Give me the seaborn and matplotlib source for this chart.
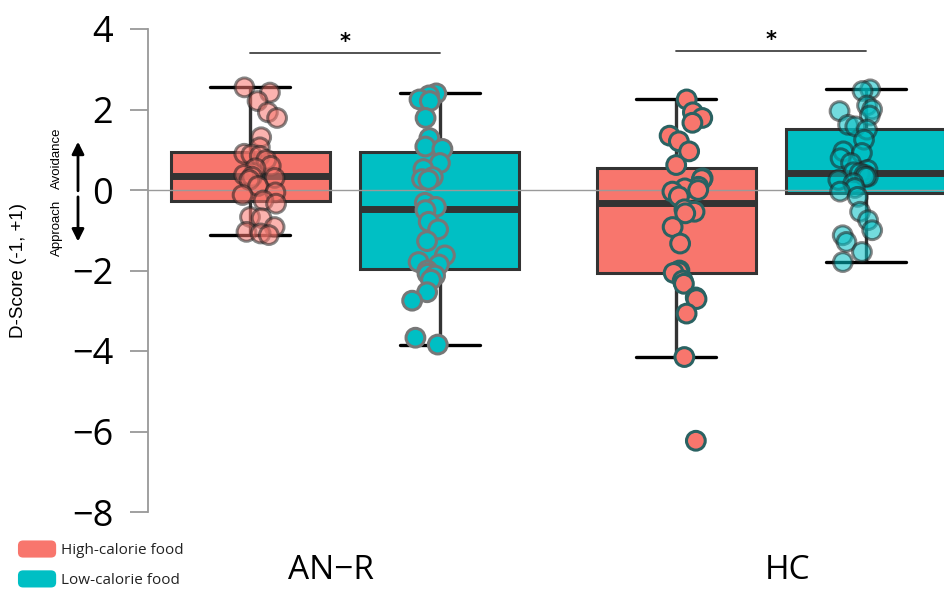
import numpy as np
import pandas as pd
import matplotlib
matplotlib.use("Agg")
import matplotlib.pyplot as plt
import matplotlib.transforms as mtransforms
from matplotlib.patches import Patch, FancyBboxPatch
from matplotlib.legend_handler import HandlerPatch
import seaborn as sns

# ---------------- data ----------------
groups = ["AN\u2212R", "HC"]
foods = ["High-calorie food", "Low-calorie food"]
colors = ["#F8766D", "#00BFC4"]

anr_high = [2.55, 2.42, 2.21, 1.93, 1.79, 1.31, 1.06, 0.90, 0.88, 0.85, 0.75, 0.60,
            0.54, 0.375, 0.33, 0.30, 0.25, 0.10, -0.06, -0.125, -0.26, -0.34, -0.67,
            -0.70, -0.92, -1.04, -1.08, -1.12]
anr_low = [2.40, 2.35, 2.25, 2.21, 1.79, 1.29, 1.08, 1.02, 0.67, 0.52, 0.32, 0.27,
           0.25, -0.32, -0.42, -0.50, -0.79, -0.98, -1.27, -1.625, -1.79, -1.85, -2.00,
           -2.08, -2.125, -2.23, -2.54, -2.75, -3.67, -3.84]
hc_high = [2.25, 1.93, 1.79, 1.67, 1.35, 1.21, 0.96, 0.62, 0.29, 0.27, 0.08, 0.04,
           0.0, -0.04, -0.16, -0.48, -0.54, -0.58, -0.92, -1.33, -2.00, -2.03, -2.06,
           -2.25, -2.33, -2.67, -2.71, -3.07, -4.15, -6.23]
hc_low = [2.50, 2.46, 2.10, 2.00, 1.96, 1.85, 1.62, 1.58, 1.50, 1.25, 0.96, 0.92,
          0.79, 0.67, 0.50, 0.44, 0.42, 0.38, 0.33, 0.33, 0.25, 0.17, 0.05, -0.04,
          -0.17, -0.54, -0.75, -1.00, -1.125, -1.29, -1.54, -1.79]

yticks = [4, 2, 0, -2, -4, -6, -8]
sig_y = [3.4, 3.45]
sig_labels = ["*", "*"]

series = [(groups[0], foods[0], anr_high), (groups[0], foods[1], anr_low),
          (groups[1], foods[0], hc_high), (groups[1], foods[1], hc_low)]
rows = []
for g, f, vals in series:
    for v in vals:
        rows.append({"group": g, "food": f, "score": v})
df = pd.DataFrame(rows)

# ---------------- style ----------------
sns.set_theme(style="white")
plt.rcParams["font.family"] = ["Open Sans", "DejaVu Sans"]
plt.rcParams["text.color"] = "black"
plt.rcParams["axes.labelcolor"] = "black"
arial = ["Liberation Sans", "DejaVu Sans"]

fig = plt.figure(figsize=(9.45, 5.9), dpi=100)
ax = fig.add_axes([148 / 945, 78 / 590, 797 / 945, 483 / 590])

width = 0.89
sns.boxplot(data=df, x="group", y="score", hue="food", order=groups, hue_order=foods,
            palette=colors, saturation=1, width=width, gap=0.16, linewidth=2.2,
            linecolor="#333333", showfliers=False,
            medianprops=dict(color="#333333", linewidth=5),
            whiskerprops=dict(color="#333333", linewidth=2.4),
            capprops=dict(color="black", linewidth=2.4),
            legend=False, ax=ax)

ax.axhline(0, color="#9a9a9a", lw=1.0, zorder=2.5)

styles = {
    (0, 0): dict(alpha=0.55, edgecolor="#222222"),
    (0, 1): dict(alpha=1.0, edgecolor="#777777"),
    (1, 0): dict(alpha=1.0, edgecolor="#2a6262"),
    (1, 1): dict(alpha=0.55, edgecolor="#222222"),
}
np.random.seed(7)
for (gi, fi), st in styles.items():
    sub = df[(df["group"] == groups[gi]) & (df["food"] == foods[fi])]
    sns.stripplot(data=sub, x="group", y="score", hue="food", order=groups,
                  hue_order=foods, palette=colors, dodge=True, jitter=0.085, size=13.5,
                  linewidth=2.2, legend=False, ax=ax, zorder=3, **st)

ax.set_xlim(-0.4624, 1.4085)
ax.set_ylim(-8, 4)
ax.set_yticks(yticks)
ax.set_xticks([])
ax.set_xlabel("")

for s in ["top", "right", "bottom"]:
    ax.spines[s].set_visible(False)
ax.spines["left"].set_color("#999999")
ax.spines["left"].set_linewidth(1.3)
ax.tick_params(axis="y", left=True, length=13, width=1.3, color="#999999",
               labelsize=26, pad=12, labelcolor="black")

ax.set_ylabel("D-Score (-1, +1)", fontsize=13.5, family=arial, color="black")
ax.yaxis.set_label_coords(-0.152, 0.5)

# group labels
label_offsets = [-14, 17]
for i, g in enumerate(groups):
    ax.annotate(g, xy=(i, 0), xycoords=ax.get_xaxis_transform(),
                xytext=(label_offsets[i] * 0.72, -30), textcoords="offset points",
                ha="center", va="top", fontsize=24, color="black",
                annotation_clip=False)

# significance bars
off = width / 4
for i in range(2):
    ax.plot([i - off, i + off], [sig_y[i], sig_y[i]], color="#444444", lw=1.3,
            clip_on=False, zorder=4)
    ax.text(i, sig_y[i] + 0.28, sig_labels[i], ha="center", va="center",
            fontsize=15, family=["DejaVu Sans"], fontweight="bold")

# approach / avoidance arrows
trans = mtransforms.blended_transform_factory(ax.transAxes, ax.transData)
ax_x = (78 - 148) / 797
ax.annotate("", xy=(ax_x, 1.2), xytext=(ax_x, -0.02), xycoords=trans,
            textcoords=trans, annotation_clip=False,
            arrowprops=dict(arrowstyle="-|>", color="black", lw=2.0,
                            mutation_scale=18, shrinkA=0, shrinkB=0))
ax.annotate("", xy=(ax_x, -1.28), xytext=(ax_x, -0.17), xycoords=trans,
            textcoords=trans, annotation_clip=False,
            arrowprops=dict(arrowstyle="-|>", color="black", lw=2.0,
                            mutation_scale=18, shrinkA=0, shrinkB=0))
tx = (57 - 148) / 797
ax.text(tx, 0.79, "Avoidance", transform=trans, rotation=90, ha="center",
        va="center", fontsize=9.5, family=arial)
ax.text(tx, -0.94, "Approach", transform=trans, rotation=90, ha="center",
        va="center", fontsize=9.5, family=arial)

# legend
def rounded(legend, orig_handle, xdescent, ydescent, width, height, fontsize):
    return FancyBboxPatch((-xdescent, -ydescent), width, height,
                          boxstyle=f"round,pad=0,rounding_size={height * 0.3}")

handles = [Patch(facecolor=colors[i], edgecolor="none", label=foods[i]) for i in range(2)]
leg = fig.legend(handles=handles, loc="upper left", bbox_to_anchor=(0.019, 0.084),
                 frameon=False, handlelength=2.5, handleheight=1.35, handletextpad=0.3,
                 labelspacing=0.8, borderpad=0, borderaxespad=0,
                 handler_map={Patch: HandlerPatch(patch_func=rounded)},
                 prop={"family": ["Open Sans", "DejaVu Sans"], "size": 11})
for t in leg.get_texts():
    t.set_color("#222222")

fig.savefig("out.png", dpi=100)
